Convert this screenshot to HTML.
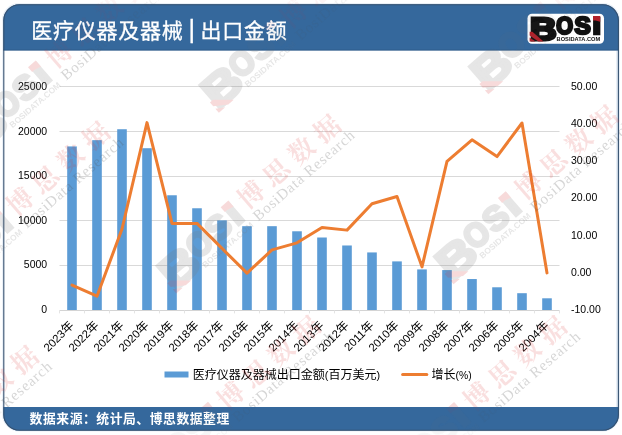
<!DOCTYPE html>
<html lang="zh"><head><meta charset="utf-8"><title>医疗仪器及器械 | 出口金额</title>
<style>
html,body{margin:0;padding:0;background:#fff;}
body{width:622px;height:435px;overflow:hidden;position:relative;font-family:"Liberation Sans", "Noto Sans CJK SC", sans-serif;}
svg{position:absolute;left:0;top:0;display:block}
text{font-family:"Liberation Sans", "Noto Sans CJK SC", sans-serif;}
.ax{font-size:10.5px;fill:#000}
.lg{font-size:12px;fill:#000}
</style></head><body>
<svg width="622" height="435" viewBox="0 0 622 435">
<defs>
<clipPath id="all"><rect x="0" y="0" width="622" height="435"/></clipPath>
<clipPath id="body"><rect x="0" y="50.1" width="622" height="356.9"/></clipPath>
<clipPath id="hf"><rect x="0" y="0" width="622" height="50.1"/><rect x="0" y="407" width="622" height="28"/></clipPath>
<clipPath id="fr"><rect x="3.3" y="4.3" width="615.6" height="426.3" rx="16" ry="16"/></clipPath>
</defs>
<rect x="0" y="0" width="622" height="435" fill="#fff"/>
<rect x="2" y="3" width="618" height="428.5" rx="17" ry="17" fill="#eaf0f7"/>
<g clip-path="url(#fr)">
<rect x="3" y="4" width="616" height="427" fill="#fff"/>
<rect x="3" y="4" width="616" height="46.1" fill="#35689c"/>
<rect x="3" y="407" width="616" height="24" fill="#35689c"/>
<rect x="616.2" y="50" width="1.8" height="357" fill="#e1eaf4"/>
<rect x="3" y="49.6" width="616" height="1" fill="#2d5a8a"/>
</g>
<rect x="3.8" y="4.8" width="614.6" height="425.4" rx="15.6" ry="15.6" fill="none" stroke="#34506f" stroke-width="1.1"/>

<line x1="59.5" x2="559.5" y1="265.50" y2="265.50" stroke="#d9d9d9" stroke-width="1"/>
<line x1="59.5" x2="559.5" y1="220.50" y2="220.50" stroke="#d9d9d9" stroke-width="1"/>
<line x1="59.5" x2="559.5" y1="176.50" y2="176.50" stroke="#d9d9d9" stroke-width="1"/>
<line x1="59.5" x2="559.5" y1="131.50" y2="131.50" stroke="#d9d9d9" stroke-width="1"/>
<line x1="59.5" x2="559.5" y1="86.50" y2="86.50" stroke="#d9d9d9" stroke-width="1"/>
<rect x="67.20" y="146.43" width="9.6" height="163.97" fill="#5b9bd5"/>
<rect x="92.20" y="140.16" width="9.6" height="170.24" fill="#5b9bd5"/>
<rect x="117.20" y="129.23" width="9.6" height="181.17" fill="#5b9bd5"/>
<rect x="142.20" y="148.22" width="9.6" height="162.18" fill="#5b9bd5"/>
<rect x="167.20" y="195.26" width="9.6" height="115.14" fill="#5b9bd5"/>
<rect x="192.20" y="208.26" width="9.6" height="102.14" fill="#5b9bd5"/>
<rect x="217.20" y="220.35" width="9.6" height="90.05" fill="#5b9bd5"/>
<rect x="242.20" y="226.18" width="9.6" height="84.22" fill="#5b9bd5"/>
<rect x="267.20" y="226.18" width="9.6" height="84.22" fill="#5b9bd5"/>
<rect x="292.20" y="231.28" width="9.6" height="79.12" fill="#5b9bd5"/>
<rect x="317.20" y="237.50" width="9.6" height="72.90" fill="#5b9bd5"/>
<rect x="342.20" y="245.48" width="9.6" height="64.92" fill="#5b9bd5"/>
<rect x="367.20" y="252.43" width="9.6" height="57.97" fill="#5b9bd5"/>
<rect x="392.20" y="261.39" width="9.6" height="49.01" fill="#5b9bd5"/>
<rect x="417.20" y="269.41" width="9.6" height="40.99" fill="#5b9bd5"/>
<rect x="442.20" y="270.08" width="9.6" height="40.32" fill="#5b9bd5"/>
<rect x="467.20" y="279.04" width="9.6" height="31.36" fill="#5b9bd5"/>
<rect x="492.20" y="287.28" width="9.6" height="23.12" fill="#5b9bd5"/>
<rect x="517.20" y="293.20" width="9.6" height="17.20" fill="#5b9bd5"/>
<rect x="542.20" y="298.30" width="9.6" height="12.10" fill="#5b9bd5"/>
<line x1="59.5" x2="559.5" y1="310.5" y2="310.5" stroke="#d4d4d4" stroke-width="1"/>
<line x1="59.50" x2="59.50" y1="310.4" y2="313.4" stroke="#e4e4e4" stroke-width="1"/>
<line x1="84.50" x2="84.50" y1="310.4" y2="313.4" stroke="#e4e4e4" stroke-width="1"/>
<line x1="109.50" x2="109.50" y1="310.4" y2="313.4" stroke="#e4e4e4" stroke-width="1"/>
<line x1="134.50" x2="134.50" y1="310.4" y2="313.4" stroke="#e4e4e4" stroke-width="1"/>
<line x1="159.50" x2="159.50" y1="310.4" y2="313.4" stroke="#e4e4e4" stroke-width="1"/>
<line x1="184.50" x2="184.50" y1="310.4" y2="313.4" stroke="#e4e4e4" stroke-width="1"/>
<line x1="209.50" x2="209.50" y1="310.4" y2="313.4" stroke="#e4e4e4" stroke-width="1"/>
<line x1="234.50" x2="234.50" y1="310.4" y2="313.4" stroke="#e4e4e4" stroke-width="1"/>
<line x1="259.50" x2="259.50" y1="310.4" y2="313.4" stroke="#e4e4e4" stroke-width="1"/>
<line x1="284.50" x2="284.50" y1="310.4" y2="313.4" stroke="#e4e4e4" stroke-width="1"/>
<line x1="309.50" x2="309.50" y1="310.4" y2="313.4" stroke="#e4e4e4" stroke-width="1"/>
<line x1="334.50" x2="334.50" y1="310.4" y2="313.4" stroke="#e4e4e4" stroke-width="1"/>
<line x1="359.50" x2="359.50" y1="310.4" y2="313.4" stroke="#e4e4e4" stroke-width="1"/>
<line x1="384.50" x2="384.50" y1="310.4" y2="313.4" stroke="#e4e4e4" stroke-width="1"/>
<line x1="409.50" x2="409.50" y1="310.4" y2="313.4" stroke="#e4e4e4" stroke-width="1"/>
<line x1="434.50" x2="434.50" y1="310.4" y2="313.4" stroke="#e4e4e4" stroke-width="1"/>
<line x1="459.50" x2="459.50" y1="310.4" y2="313.4" stroke="#e4e4e4" stroke-width="1"/>
<line x1="484.50" x2="484.50" y1="310.4" y2="313.4" stroke="#e4e4e4" stroke-width="1"/>
<line x1="509.50" x2="509.50" y1="310.4" y2="313.4" stroke="#e4e4e4" stroke-width="1"/>
<line x1="534.50" x2="534.50" y1="310.4" y2="313.4" stroke="#e4e4e4" stroke-width="1"/>
<line x1="559.50" x2="559.50" y1="310.4" y2="313.4" stroke="#e4e4e4" stroke-width="1"/>
<polyline points="72.00,285.01 97.00,296.21 122.00,229.01 147.00,122.61 172.00,223.41 197.00,223.41 222.00,248.43 247.00,273.07 272.00,249.92 297.00,242.83 322.00,227.52 347.00,230.13 372.00,203.81 397.00,196.53 422.00,266.83 447.00,161.44 472.00,139.79 497.00,156.59 522.00,122.99 547.00,272.88" fill="none" stroke="#ed7d31" stroke-width="3" stroke-linejoin="round" stroke-linecap="round"/>
<text class="ax" x="47.2" y="312.80" text-anchor="end">0</text>
<text class="ax" x="47.2" y="268.26" text-anchor="end">5000</text>
<text class="ax" x="47.2" y="223.72" text-anchor="end">10000</text>
<text class="ax" x="47.2" y="179.18" text-anchor="end">15000</text>
<text class="ax" x="47.2" y="134.64" text-anchor="end">20000</text>
<text class="ax" x="47.2" y="90.10" text-anchor="end">25000</text>
<text class="ax" x="571" y="312.80">-10.00</text>
<text class="ax" x="571" y="275.68">0.00</text>
<text class="ax" x="571" y="238.56">10.00</text>
<text class="ax" x="571" y="201.44">20.00</text>
<text class="ax" x="571" y="164.32">30.00</text>
<text class="ax" x="571" y="127.20">40.00</text>
<text class="ax" x="571" y="90.08">50.00</text>
<text class="ax" style="font-size:11.3px" transform="translate(71.70,323.30) rotate(-45)" text-anchor="end" y="3.9">2023<tspan style="font-size:12px">年</tspan></text>
<text class="ax" style="font-size:11.3px" transform="translate(96.70,323.30) rotate(-45)" text-anchor="end" y="3.9">2022<tspan style="font-size:12px">年</tspan></text>
<text class="ax" style="font-size:11.3px" transform="translate(121.70,323.30) rotate(-45)" text-anchor="end" y="3.9">2021<tspan style="font-size:12px">年</tspan></text>
<text class="ax" style="font-size:11.3px" transform="translate(146.70,323.30) rotate(-45)" text-anchor="end" y="3.9">2020<tspan style="font-size:12px">年</tspan></text>
<text class="ax" style="font-size:11.3px" transform="translate(171.70,323.30) rotate(-45)" text-anchor="end" y="3.9">2019<tspan style="font-size:12px">年</tspan></text>
<text class="ax" style="font-size:11.3px" transform="translate(196.70,323.30) rotate(-45)" text-anchor="end" y="3.9">2018<tspan style="font-size:12px">年</tspan></text>
<text class="ax" style="font-size:11.3px" transform="translate(221.70,323.30) rotate(-45)" text-anchor="end" y="3.9">2017<tspan style="font-size:12px">年</tspan></text>
<text class="ax" style="font-size:11.3px" transform="translate(246.70,323.30) rotate(-45)" text-anchor="end" y="3.9">2016<tspan style="font-size:12px">年</tspan></text>
<text class="ax" style="font-size:11.3px" transform="translate(271.70,323.30) rotate(-45)" text-anchor="end" y="3.9">2015<tspan style="font-size:12px">年</tspan></text>
<text class="ax" style="font-size:11.3px" transform="translate(296.70,323.30) rotate(-45)" text-anchor="end" y="3.9">2014<tspan style="font-size:12px">年</tspan></text>
<text class="ax" style="font-size:11.3px" transform="translate(321.70,323.30) rotate(-45)" text-anchor="end" y="3.9">2013<tspan style="font-size:12px">年</tspan></text>
<text class="ax" style="font-size:11.3px" transform="translate(346.70,323.30) rotate(-45)" text-anchor="end" y="3.9">2012<tspan style="font-size:12px">年</tspan></text>
<text class="ax" style="font-size:11.3px" transform="translate(371.70,323.30) rotate(-45)" text-anchor="end" y="3.9">2011<tspan style="font-size:12px">年</tspan></text>
<text class="ax" style="font-size:11.3px" transform="translate(396.70,323.30) rotate(-45)" text-anchor="end" y="3.9">2010<tspan style="font-size:12px">年</tspan></text>
<text class="ax" style="font-size:11.3px" transform="translate(421.70,323.30) rotate(-45)" text-anchor="end" y="3.9">2009<tspan style="font-size:12px">年</tspan></text>
<text class="ax" style="font-size:11.3px" transform="translate(446.70,323.30) rotate(-45)" text-anchor="end" y="3.9">2008<tspan style="font-size:12px">年</tspan></text>
<text class="ax" style="font-size:11.3px" transform="translate(471.70,323.30) rotate(-45)" text-anchor="end" y="3.9">2007<tspan style="font-size:12px">年</tspan></text>
<text class="ax" style="font-size:11.3px" transform="translate(496.70,323.30) rotate(-45)" text-anchor="end" y="3.9">2006<tspan style="font-size:12px">年</tspan></text>
<text class="ax" style="font-size:11.3px" transform="translate(521.70,323.30) rotate(-45)" text-anchor="end" y="3.9">2005<tspan style="font-size:12px">年</tspan></text>
<text class="ax" style="font-size:11.3px" transform="translate(546.70,323.30) rotate(-45)" text-anchor="end" y="3.9">2004<tspan style="font-size:12px">年</tspan></text>
<rect x="164.5" y="371.5" width="24" height="6" fill="#5b9bd5"/>
<text class="lg" x="192.8" y="378.8">医疗仪器及器械出口金额<tspan font-size="10.8">(</tspan>百万美元<tspan font-size="10.8">)</tspan></text>
<line x1="402.6" x2="426.8" y1="374.5" y2="374.5" stroke="#ed7d31" stroke-width="3" stroke-linecap="round"/>
<text class="lg" x="431.5" y="378.8">增长<tspan font-size="10.4">(%)</tspan></text>
<text y="37.6" font-size="21" fill="#fff" font-weight="400" stroke="#fff" stroke-width="0.3"><tspan x="31.2" style="letter-spacing:0.75px">医疗仪器及器械</tspan><tspan x="188.5" y="38.2" font-size="25" font-weight="400">|</tspan><tspan x="200.4" y="37.6" style="letter-spacing:0.8px">出口金额</tspan></text>
<text x="29.6" y="423.4" font-size="12.8" fill="#fff" font-weight="700" style="letter-spacing:0.55px">数据来源：统计局、博思数据整理</text>
<g>
<rect x="527.5" y="13.8" width="76.5" height="30" rx="4.5" fill="#fff"/>
<g transform="translate(531,41)"><text x="-0.9" y="-1.5" font-size="31.3" fill="#111" stroke="#111" stroke-linejoin="miter" font-weight="700" stroke-width="3.0" textLength="26.6" lengthAdjust="spacingAndGlyphs">B</text>
<text x="25.3" y="-7.2" font-size="23.7" fill="#111" stroke="#111" stroke-linejoin="miter" font-weight="700" stroke-width="2.6" textLength="16.8" lengthAdjust="spacingAndGlyphs">O</text>
<text x="43.4" y="-7.2" font-size="23.7" fill="#111" stroke="#111" stroke-linejoin="miter" font-weight="700" stroke-width="2.6" textLength="16.2" lengthAdjust="spacingAndGlyphs">S</text>
<text x="61.85" y="-7.2" font-size="22.2" fill="#111" stroke="#111" stroke-linejoin="miter" font-weight="700" stroke-width="2.6" textLength="8" lengthAdjust="spacingAndGlyphs">i</text>
<text x="25.6" y="0.4" font-size="5.9" font-weight="700" fill="#111" textLength="43.6" lengthAdjust="spacingAndGlyphs">BOSIDATA.COM</text>
<polygon points="62,-24.9 69.2,-24.9 69.2,-19.2 64.5,-20.4 62,-20.4" fill="#b0202a"/>
<polygon points="-1.4,-9.2 1.4,-9.2 12.5,0.4 7.4,0.4 -1.4,-5.6" fill="#b0202a"/>
<polygon points="-1.4,-3.4 4.6,0.4 -1.4,0.4" fill="#b0202a"/></g>
</g>
<g clip-path="url(#body)">
<g transform="translate(454.7,282.5) rotate(-41)">
<g transform="translate(0,0) scale(1.42)" opacity="0.18"><text x="-0.9" y="-1.5" font-size="31.3" fill="#777" stroke="#777" stroke-linejoin="miter" font-weight="700" stroke-width="2.4000000000000004" textLength="26.6" lengthAdjust="spacingAndGlyphs">B</text>
<text x="25.3" y="-7.2" font-size="23.7" fill="#777" stroke="#777" stroke-linejoin="miter" font-weight="700" stroke-width="2.08" textLength="16.8" lengthAdjust="spacingAndGlyphs">O</text>
<text x="43.4" y="-7.2" font-size="23.7" fill="#777" stroke="#777" stroke-linejoin="miter" font-weight="700" stroke-width="2.08" textLength="16.2" lengthAdjust="spacingAndGlyphs">S</text>
<text x="61.85" y="-7.2" font-size="22.2" fill="#777" stroke="#777" stroke-linejoin="miter" font-weight="700" stroke-width="2.08" textLength="8" lengthAdjust="spacingAndGlyphs">i</text>
<text x="25.6" y="0.4" font-size="5.9" font-weight="700" fill="#777" textLength="45.6" lengthAdjust="spacingAndGlyphs">BOSIDATA.COM</text>
<polygon points="62,-24.9 69.2,-24.9 69.2,-19.2 64.5,-20.4 62,-20.4" fill="#d83a3a"/>
<polygon points="-1.4,-9.2 1.4,-9.2 12.5,0.4 7.4,0.4 -1.4,-5.6" fill="#d83a3a"/>
<polygon points="-1.4,-3.4 4.6,0.4 -1.4,0.4" fill="#d83a3a"/></g>
<text x="106.5" y="-15.5" font-size="26" font-weight="700" fill="#dd3333" opacity="0.15" style="font-family:'Noto Serif CJK SC',serif;letter-spacing:7.4px">博思数据</text>
<text x="107" y="0" font-size="15" fill="#555" opacity="0.24" style="font-family:'Liberation Serif',serif" textLength="129" lengthAdjust="spacing">BosiData Research</text>
</g>
<g transform="translate(177.4,291.7) rotate(-41)">
<g transform="translate(0,0) scale(1.42)" opacity="0.18"><text x="-0.9" y="-1.5" font-size="31.3" fill="#777" stroke="#777" stroke-linejoin="miter" font-weight="700" stroke-width="2.4000000000000004" textLength="26.6" lengthAdjust="spacingAndGlyphs">B</text>
<text x="25.3" y="-7.2" font-size="23.7" fill="#777" stroke="#777" stroke-linejoin="miter" font-weight="700" stroke-width="2.08" textLength="16.8" lengthAdjust="spacingAndGlyphs">O</text>
<text x="43.4" y="-7.2" font-size="23.7" fill="#777" stroke="#777" stroke-linejoin="miter" font-weight="700" stroke-width="2.08" textLength="16.2" lengthAdjust="spacingAndGlyphs">S</text>
<text x="61.85" y="-7.2" font-size="22.2" fill="#777" stroke="#777" stroke-linejoin="miter" font-weight="700" stroke-width="2.08" textLength="8" lengthAdjust="spacingAndGlyphs">i</text>
<text x="25.6" y="0.4" font-size="5.9" font-weight="700" fill="#777" textLength="45.6" lengthAdjust="spacingAndGlyphs">BOSIDATA.COM</text>
<polygon points="62,-24.9 69.2,-24.9 69.2,-19.2 64.5,-20.4 62,-20.4" fill="#d83a3a"/>
<polygon points="-1.4,-9.2 1.4,-9.2 12.5,0.4 7.4,0.4 -1.4,-5.6" fill="#d83a3a"/>
<polygon points="-1.4,-3.4 4.6,0.4 -1.4,0.4" fill="#d83a3a"/></g>
<text x="106.5" y="-15.5" font-size="26" font-weight="700" fill="#dd3333" opacity="0.15" style="font-family:'Noto Serif CJK SC',serif;letter-spacing:7.4px">博思数据</text>
<text x="107" y="0" font-size="15" fill="#555" opacity="0.24" style="font-family:'Liberation Serif',serif" textLength="129" lengthAdjust="spacing">BosiData Research</text>
</g>
<g transform="translate(-14.5,151) rotate(-41)">
<g transform="translate(-1,0) scale(1.42)" opacity="0.18"><text x="-0.9" y="-1.5" font-size="31.3" fill="#777" stroke="#777" stroke-linejoin="miter" font-weight="700" stroke-width="2.4000000000000004" textLength="26.6" lengthAdjust="spacingAndGlyphs">B</text>
<text x="25.3" y="-7.2" font-size="23.7" fill="#777" stroke="#777" stroke-linejoin="miter" font-weight="700" stroke-width="2.08" textLength="16.8" lengthAdjust="spacingAndGlyphs">O</text>
<text x="43.4" y="-7.2" font-size="23.7" fill="#777" stroke="#777" stroke-linejoin="miter" font-weight="700" stroke-width="2.08" textLength="16.2" lengthAdjust="spacingAndGlyphs">S</text>
<text x="61.85" y="-7.2" font-size="22.2" fill="#777" stroke="#777" stroke-linejoin="miter" font-weight="700" stroke-width="2.08" textLength="8" lengthAdjust="spacingAndGlyphs">i</text>
<text x="25.6" y="0.4" font-size="5.9" font-weight="700" fill="#777" textLength="45.6" lengthAdjust="spacingAndGlyphs">BOSIDATA.COM</text>
<polygon points="62,-24.9 69.2,-24.9 69.2,-19.2 64.5,-20.4 62,-20.4" fill="#d83a3a"/>
<polygon points="-1.4,-9.2 1.4,-9.2 12.5,0.4 7.4,0.4 -1.4,-5.6" fill="#d83a3a"/>
<polygon points="-1.4,-3.4 4.6,0.4 -1.4,0.4" fill="#d83a3a"/></g>
<text x="106.5" y="-15.5" font-size="26" font-weight="700" fill="#dd3333" opacity="0.15" style="font-family:'Noto Serif CJK SC',serif;letter-spacing:7.4px">博思数据</text>
<text x="107" y="0" font-size="15" fill="#555" opacity="0.24" style="font-family:'Liberation Serif',serif" textLength="129" lengthAdjust="spacing">BosiData Research</text>
</g>
<g transform="translate(220,111) rotate(-41)">
<g transform="translate(0,0) scale(1.42)" opacity="0.18"><text x="-0.9" y="-1.5" font-size="31.3" fill="#777" stroke="#777" stroke-linejoin="miter" font-weight="700" stroke-width="2.4000000000000004" textLength="26.6" lengthAdjust="spacingAndGlyphs">B</text>
<text x="25.3" y="-7.2" font-size="23.7" fill="#777" stroke="#777" stroke-linejoin="miter" font-weight="700" stroke-width="2.08" textLength="16.8" lengthAdjust="spacingAndGlyphs">O</text>
<text x="43.4" y="-7.2" font-size="23.7" fill="#777" stroke="#777" stroke-linejoin="miter" font-weight="700" stroke-width="2.08" textLength="16.2" lengthAdjust="spacingAndGlyphs">S</text>
<text x="61.85" y="-7.2" font-size="22.2" fill="#777" stroke="#777" stroke-linejoin="miter" font-weight="700" stroke-width="2.08" textLength="8" lengthAdjust="spacingAndGlyphs">i</text>
<text x="25.6" y="0.4" font-size="5.9" font-weight="700" fill="#777" textLength="45.6" lengthAdjust="spacingAndGlyphs">BOSIDATA.COM</text>
<polygon points="62,-24.9 69.2,-24.9 69.2,-19.2 64.5,-20.4 62,-20.4" fill="#d83a3a"/>
<polygon points="-1.4,-9.2 1.4,-9.2 12.5,0.4 7.4,0.4 -1.4,-5.6" fill="#d83a3a"/>
<polygon points="-1.4,-3.4 4.6,0.4 -1.4,0.4" fill="#d83a3a"/></g>
<text x="106.5" y="-15.5" font-size="26" font-weight="700" fill="#dd3333" opacity="0.15" style="font-family:'Noto Serif CJK SC',serif;letter-spacing:7.4px">博思数据</text>
<text x="107" y="0" font-size="15" fill="#555" opacity="0.24" style="font-family:'Liberation Serif',serif" textLength="129" lengthAdjust="spacing">BosiData Research</text>
</g>
<g transform="translate(489.5,92.5) rotate(-41)">
<g transform="translate(0,0) scale(1.42)" opacity="0.18"><text x="-0.9" y="-1.5" font-size="31.3" fill="#777" stroke="#777" stroke-linejoin="miter" font-weight="700" stroke-width="2.4000000000000004" textLength="26.6" lengthAdjust="spacingAndGlyphs">B</text>
<text x="25.3" y="-7.2" font-size="23.7" fill="#777" stroke="#777" stroke-linejoin="miter" font-weight="700" stroke-width="2.08" textLength="16.8" lengthAdjust="spacingAndGlyphs">O</text>
<text x="43.4" y="-7.2" font-size="23.7" fill="#777" stroke="#777" stroke-linejoin="miter" font-weight="700" stroke-width="2.08" textLength="16.2" lengthAdjust="spacingAndGlyphs">S</text>
<text x="61.85" y="-7.2" font-size="22.2" fill="#777" stroke="#777" stroke-linejoin="miter" font-weight="700" stroke-width="2.08" textLength="8" lengthAdjust="spacingAndGlyphs">i</text>
<text x="25.6" y="0.4" font-size="5.9" font-weight="700" fill="#777" textLength="45.6" lengthAdjust="spacingAndGlyphs">BOSIDATA.COM</text>
<polygon points="62,-24.9 69.2,-24.9 69.2,-19.2 64.5,-20.4 62,-20.4" fill="#d83a3a"/>
<polygon points="-1.4,-9.2 1.4,-9.2 12.5,0.4 7.4,0.4 -1.4,-5.6" fill="#d83a3a"/>
<polygon points="-1.4,-3.4 4.6,0.4 -1.4,0.4" fill="#d83a3a"/></g>
<text x="106.5" y="-15.5" font-size="26" font-weight="700" fill="#dd3333" opacity="0.15" style="font-family:'Noto Serif CJK SC',serif;letter-spacing:7.4px">博思数据</text>
<text x="107" y="0" font-size="15" fill="#555" opacity="0.24" style="font-family:'Liberation Serif',serif" textLength="129" lengthAdjust="spacing">BosiData Research</text>
</g>
<g transform="translate(-53.7,298.9) rotate(-41)">
<g transform="translate(0,0) scale(1.42)" opacity="0.18"><text x="-0.9" y="-1.5" font-size="31.3" fill="#777" stroke="#777" stroke-linejoin="miter" font-weight="700" stroke-width="2.4000000000000004" textLength="26.6" lengthAdjust="spacingAndGlyphs">B</text>
<text x="25.3" y="-7.2" font-size="23.7" fill="#777" stroke="#777" stroke-linejoin="miter" font-weight="700" stroke-width="2.08" textLength="16.8" lengthAdjust="spacingAndGlyphs">O</text>
<text x="43.4" y="-7.2" font-size="23.7" fill="#777" stroke="#777" stroke-linejoin="miter" font-weight="700" stroke-width="2.08" textLength="16.2" lengthAdjust="spacingAndGlyphs">S</text>
<text x="61.85" y="-7.2" font-size="22.2" fill="#777" stroke="#777" stroke-linejoin="miter" font-weight="700" stroke-width="2.08" textLength="8" lengthAdjust="spacingAndGlyphs">i</text>
<text x="25.6" y="0.4" font-size="5.9" font-weight="700" fill="#777" textLength="45.6" lengthAdjust="spacingAndGlyphs">BOSIDATA.COM</text>
<polygon points="62,-24.9 69.2,-24.9 69.2,-19.2 64.5,-20.4 62,-20.4" fill="#d83a3a"/>
<polygon points="-1.4,-9.2 1.4,-9.2 12.5,0.4 7.4,0.4 -1.4,-5.6" fill="#d83a3a"/>
<polygon points="-1.4,-3.4 4.6,0.4 -1.4,0.4" fill="#d83a3a"/></g>
<text x="106.5" y="-15.5" font-size="26" font-weight="700" fill="#dd3333" opacity="0.15" style="font-family:'Noto Serif CJK SC',serif;letter-spacing:7.4px">博思数据</text>
<text x="107" y="0" font-size="15" fill="#555" opacity="0.24" style="font-family:'Liberation Serif',serif" textLength="129" lengthAdjust="spacing">BosiData Research</text>
</g>
<g transform="translate(403.1,493.2) rotate(-41)">
<g transform="translate(0,0) scale(1.42)" opacity="0.18"><text x="-0.9" y="-1.5" font-size="31.3" fill="#777" stroke="#777" stroke-linejoin="miter" font-weight="700" stroke-width="2.4000000000000004" textLength="26.6" lengthAdjust="spacingAndGlyphs">B</text>
<text x="25.3" y="-7.2" font-size="23.7" fill="#777" stroke="#777" stroke-linejoin="miter" font-weight="700" stroke-width="2.08" textLength="16.8" lengthAdjust="spacingAndGlyphs">O</text>
<text x="43.4" y="-7.2" font-size="23.7" fill="#777" stroke="#777" stroke-linejoin="miter" font-weight="700" stroke-width="2.08" textLength="16.2" lengthAdjust="spacingAndGlyphs">S</text>
<text x="61.85" y="-7.2" font-size="22.2" fill="#777" stroke="#777" stroke-linejoin="miter" font-weight="700" stroke-width="2.08" textLength="8" lengthAdjust="spacingAndGlyphs">i</text>
<text x="25.6" y="0.4" font-size="5.9" font-weight="700" fill="#777" textLength="45.6" lengthAdjust="spacingAndGlyphs">BOSIDATA.COM</text>
<polygon points="62,-24.9 69.2,-24.9 69.2,-19.2 64.5,-20.4 62,-20.4" fill="#d83a3a"/>
<polygon points="-1.4,-9.2 1.4,-9.2 12.5,0.4 7.4,0.4 -1.4,-5.6" fill="#d83a3a"/>
<polygon points="-1.4,-3.4 4.6,0.4 -1.4,0.4" fill="#d83a3a"/></g>
<text x="106.5" y="-15.5" font-size="26" font-weight="700" fill="#dd3333" opacity="0.15" style="font-family:'Noto Serif CJK SC',serif;letter-spacing:7.4px">博思数据</text>
<text x="107" y="0" font-size="15" fill="#555" opacity="0.24" style="font-family:'Liberation Serif',serif" textLength="129" lengthAdjust="spacing">BosiData Research</text>
</g>
<g transform="translate(157,493) rotate(-41)">
<g transform="translate(0,0) scale(1.42)" opacity="0.18"><text x="-0.9" y="-1.5" font-size="31.3" fill="#777" stroke="#777" stroke-linejoin="miter" font-weight="700" stroke-width="2.4000000000000004" textLength="26.6" lengthAdjust="spacingAndGlyphs">B</text>
<text x="25.3" y="-7.2" font-size="23.7" fill="#777" stroke="#777" stroke-linejoin="miter" font-weight="700" stroke-width="2.08" textLength="16.8" lengthAdjust="spacingAndGlyphs">O</text>
<text x="43.4" y="-7.2" font-size="23.7" fill="#777" stroke="#777" stroke-linejoin="miter" font-weight="700" stroke-width="2.08" textLength="16.2" lengthAdjust="spacingAndGlyphs">S</text>
<text x="61.85" y="-7.2" font-size="22.2" fill="#777" stroke="#777" stroke-linejoin="miter" font-weight="700" stroke-width="2.08" textLength="8" lengthAdjust="spacingAndGlyphs">i</text>
<text x="25.6" y="0.4" font-size="5.9" font-weight="700" fill="#777" textLength="45.6" lengthAdjust="spacingAndGlyphs">BOSIDATA.COM</text>
<polygon points="62,-24.9 69.2,-24.9 69.2,-19.2 64.5,-20.4 62,-20.4" fill="#d83a3a"/>
<polygon points="-1.4,-9.2 1.4,-9.2 12.5,0.4 7.4,0.4 -1.4,-5.6" fill="#d83a3a"/>
<polygon points="-1.4,-3.4 4.6,0.4 -1.4,0.4" fill="#d83a3a"/></g>
<text x="106.5" y="-15.5" font-size="26" font-weight="700" fill="#dd3333" opacity="0.15" style="font-family:'Noto Serif CJK SC',serif;letter-spacing:7.4px">博思数据</text>
<text x="107" y="0" font-size="15" fill="#555" opacity="0.24" style="font-family:'Liberation Serif',serif" textLength="129" lengthAdjust="spacing">BosiData Research</text>
</g>
<g transform="translate(-125.2,523) rotate(-41)">
<g transform="translate(0,0) scale(1.42)" opacity="0.18"><text x="-0.9" y="-1.5" font-size="31.3" fill="#777" stroke="#777" stroke-linejoin="miter" font-weight="700" stroke-width="2.4000000000000004" textLength="26.6" lengthAdjust="spacingAndGlyphs">B</text>
<text x="25.3" y="-7.2" font-size="23.7" fill="#777" stroke="#777" stroke-linejoin="miter" font-weight="700" stroke-width="2.08" textLength="16.8" lengthAdjust="spacingAndGlyphs">O</text>
<text x="43.4" y="-7.2" font-size="23.7" fill="#777" stroke="#777" stroke-linejoin="miter" font-weight="700" stroke-width="2.08" textLength="16.2" lengthAdjust="spacingAndGlyphs">S</text>
<text x="61.85" y="-7.2" font-size="22.2" fill="#777" stroke="#777" stroke-linejoin="miter" font-weight="700" stroke-width="2.08" textLength="8" lengthAdjust="spacingAndGlyphs">i</text>
<text x="25.6" y="0.4" font-size="5.9" font-weight="700" fill="#777" textLength="45.6" lengthAdjust="spacingAndGlyphs">BOSIDATA.COM</text>
<polygon points="62,-24.9 69.2,-24.9 69.2,-19.2 64.5,-20.4 62,-20.4" fill="#d83a3a"/>
<polygon points="-1.4,-9.2 1.4,-9.2 12.5,0.4 7.4,0.4 -1.4,-5.6" fill="#d83a3a"/>
<polygon points="-1.4,-3.4 4.6,0.4 -1.4,0.4" fill="#d83a3a"/></g>
<text x="106.5" y="-15.5" font-size="26" font-weight="700" fill="#dd3333" opacity="0.15" style="font-family:'Noto Serif CJK SC',serif;letter-spacing:7.4px">博思数据</text>
<text x="107" y="0" font-size="15" fill="#555" opacity="0.24" style="font-family:'Liberation Serif',serif" textLength="129" lengthAdjust="spacing">BosiData Research</text>
</g>
</g>
<g clip-path="url(#hf)" opacity="0.35">
<g transform="translate(454.7,282.5) rotate(-41)">
<g transform="translate(0,0) scale(1.42)" opacity="0.18"><text x="-0.9" y="-1.5" font-size="31.3" fill="#777" stroke="#777" stroke-linejoin="miter" font-weight="700" stroke-width="2.4000000000000004" textLength="26.6" lengthAdjust="spacingAndGlyphs">B</text>
<text x="25.3" y="-7.2" font-size="23.7" fill="#777" stroke="#777" stroke-linejoin="miter" font-weight="700" stroke-width="2.08" textLength="16.8" lengthAdjust="spacingAndGlyphs">O</text>
<text x="43.4" y="-7.2" font-size="23.7" fill="#777" stroke="#777" stroke-linejoin="miter" font-weight="700" stroke-width="2.08" textLength="16.2" lengthAdjust="spacingAndGlyphs">S</text>
<text x="61.85" y="-7.2" font-size="22.2" fill="#777" stroke="#777" stroke-linejoin="miter" font-weight="700" stroke-width="2.08" textLength="8" lengthAdjust="spacingAndGlyphs">i</text>
<text x="25.6" y="0.4" font-size="5.9" font-weight="700" fill="#777" textLength="45.6" lengthAdjust="spacingAndGlyphs">BOSIDATA.COM</text>
<polygon points="62,-24.9 69.2,-24.9 69.2,-19.2 64.5,-20.4 62,-20.4" fill="#d83a3a"/>
<polygon points="-1.4,-9.2 1.4,-9.2 12.5,0.4 7.4,0.4 -1.4,-5.6" fill="#d83a3a"/>
<polygon points="-1.4,-3.4 4.6,0.4 -1.4,0.4" fill="#d83a3a"/></g>
<text x="106.5" y="-15.5" font-size="26" font-weight="700" fill="#dd3333" opacity="0.15" style="font-family:'Noto Serif CJK SC',serif;letter-spacing:7.4px">博思数据</text>
<text x="107" y="0" font-size="15" fill="#555" opacity="0.24" style="font-family:'Liberation Serif',serif" textLength="129" lengthAdjust="spacing">BosiData Research</text>
</g>
<g transform="translate(177.4,291.7) rotate(-41)">
<g transform="translate(0,0) scale(1.42)" opacity="0.18"><text x="-0.9" y="-1.5" font-size="31.3" fill="#777" stroke="#777" stroke-linejoin="miter" font-weight="700" stroke-width="2.4000000000000004" textLength="26.6" lengthAdjust="spacingAndGlyphs">B</text>
<text x="25.3" y="-7.2" font-size="23.7" fill="#777" stroke="#777" stroke-linejoin="miter" font-weight="700" stroke-width="2.08" textLength="16.8" lengthAdjust="spacingAndGlyphs">O</text>
<text x="43.4" y="-7.2" font-size="23.7" fill="#777" stroke="#777" stroke-linejoin="miter" font-weight="700" stroke-width="2.08" textLength="16.2" lengthAdjust="spacingAndGlyphs">S</text>
<text x="61.85" y="-7.2" font-size="22.2" fill="#777" stroke="#777" stroke-linejoin="miter" font-weight="700" stroke-width="2.08" textLength="8" lengthAdjust="spacingAndGlyphs">i</text>
<text x="25.6" y="0.4" font-size="5.9" font-weight="700" fill="#777" textLength="45.6" lengthAdjust="spacingAndGlyphs">BOSIDATA.COM</text>
<polygon points="62,-24.9 69.2,-24.9 69.2,-19.2 64.5,-20.4 62,-20.4" fill="#d83a3a"/>
<polygon points="-1.4,-9.2 1.4,-9.2 12.5,0.4 7.4,0.4 -1.4,-5.6" fill="#d83a3a"/>
<polygon points="-1.4,-3.4 4.6,0.4 -1.4,0.4" fill="#d83a3a"/></g>
<text x="106.5" y="-15.5" font-size="26" font-weight="700" fill="#dd3333" opacity="0.15" style="font-family:'Noto Serif CJK SC',serif;letter-spacing:7.4px">博思数据</text>
<text x="107" y="0" font-size="15" fill="#555" opacity="0.24" style="font-family:'Liberation Serif',serif" textLength="129" lengthAdjust="spacing">BosiData Research</text>
</g>
<g transform="translate(-14.5,151) rotate(-41)">
<g transform="translate(-1,0) scale(1.42)" opacity="0.18"><text x="-0.9" y="-1.5" font-size="31.3" fill="#777" stroke="#777" stroke-linejoin="miter" font-weight="700" stroke-width="2.4000000000000004" textLength="26.6" lengthAdjust="spacingAndGlyphs">B</text>
<text x="25.3" y="-7.2" font-size="23.7" fill="#777" stroke="#777" stroke-linejoin="miter" font-weight="700" stroke-width="2.08" textLength="16.8" lengthAdjust="spacingAndGlyphs">O</text>
<text x="43.4" y="-7.2" font-size="23.7" fill="#777" stroke="#777" stroke-linejoin="miter" font-weight="700" stroke-width="2.08" textLength="16.2" lengthAdjust="spacingAndGlyphs">S</text>
<text x="61.85" y="-7.2" font-size="22.2" fill="#777" stroke="#777" stroke-linejoin="miter" font-weight="700" stroke-width="2.08" textLength="8" lengthAdjust="spacingAndGlyphs">i</text>
<text x="25.6" y="0.4" font-size="5.9" font-weight="700" fill="#777" textLength="45.6" lengthAdjust="spacingAndGlyphs">BOSIDATA.COM</text>
<polygon points="62,-24.9 69.2,-24.9 69.2,-19.2 64.5,-20.4 62,-20.4" fill="#d83a3a"/>
<polygon points="-1.4,-9.2 1.4,-9.2 12.5,0.4 7.4,0.4 -1.4,-5.6" fill="#d83a3a"/>
<polygon points="-1.4,-3.4 4.6,0.4 -1.4,0.4" fill="#d83a3a"/></g>
<text x="106.5" y="-15.5" font-size="26" font-weight="700" fill="#dd3333" opacity="0.15" style="font-family:'Noto Serif CJK SC',serif;letter-spacing:7.4px">博思数据</text>
<text x="107" y="0" font-size="15" fill="#555" opacity="0.24" style="font-family:'Liberation Serif',serif" textLength="129" lengthAdjust="spacing">BosiData Research</text>
</g>
<g transform="translate(220,111) rotate(-41)">
<g transform="translate(0,0) scale(1.42)" opacity="0.18"><text x="-0.9" y="-1.5" font-size="31.3" fill="#777" stroke="#777" stroke-linejoin="miter" font-weight="700" stroke-width="2.4000000000000004" textLength="26.6" lengthAdjust="spacingAndGlyphs">B</text>
<text x="25.3" y="-7.2" font-size="23.7" fill="#777" stroke="#777" stroke-linejoin="miter" font-weight="700" stroke-width="2.08" textLength="16.8" lengthAdjust="spacingAndGlyphs">O</text>
<text x="43.4" y="-7.2" font-size="23.7" fill="#777" stroke="#777" stroke-linejoin="miter" font-weight="700" stroke-width="2.08" textLength="16.2" lengthAdjust="spacingAndGlyphs">S</text>
<text x="61.85" y="-7.2" font-size="22.2" fill="#777" stroke="#777" stroke-linejoin="miter" font-weight="700" stroke-width="2.08" textLength="8" lengthAdjust="spacingAndGlyphs">i</text>
<text x="25.6" y="0.4" font-size="5.9" font-weight="700" fill="#777" textLength="45.6" lengthAdjust="spacingAndGlyphs">BOSIDATA.COM</text>
<polygon points="62,-24.9 69.2,-24.9 69.2,-19.2 64.5,-20.4 62,-20.4" fill="#d83a3a"/>
<polygon points="-1.4,-9.2 1.4,-9.2 12.5,0.4 7.4,0.4 -1.4,-5.6" fill="#d83a3a"/>
<polygon points="-1.4,-3.4 4.6,0.4 -1.4,0.4" fill="#d83a3a"/></g>
<text x="106.5" y="-15.5" font-size="26" font-weight="700" fill="#dd3333" opacity="0.15" style="font-family:'Noto Serif CJK SC',serif;letter-spacing:7.4px">博思数据</text>
<text x="107" y="0" font-size="15" fill="#555" opacity="0.24" style="font-family:'Liberation Serif',serif" textLength="129" lengthAdjust="spacing">BosiData Research</text>
</g>
<g transform="translate(489.5,92.5) rotate(-41)">
<g transform="translate(0,0) scale(1.42)" opacity="0.18"><text x="-0.9" y="-1.5" font-size="31.3" fill="#777" stroke="#777" stroke-linejoin="miter" font-weight="700" stroke-width="2.4000000000000004" textLength="26.6" lengthAdjust="spacingAndGlyphs">B</text>
<text x="25.3" y="-7.2" font-size="23.7" fill="#777" stroke="#777" stroke-linejoin="miter" font-weight="700" stroke-width="2.08" textLength="16.8" lengthAdjust="spacingAndGlyphs">O</text>
<text x="43.4" y="-7.2" font-size="23.7" fill="#777" stroke="#777" stroke-linejoin="miter" font-weight="700" stroke-width="2.08" textLength="16.2" lengthAdjust="spacingAndGlyphs">S</text>
<text x="61.85" y="-7.2" font-size="22.2" fill="#777" stroke="#777" stroke-linejoin="miter" font-weight="700" stroke-width="2.08" textLength="8" lengthAdjust="spacingAndGlyphs">i</text>
<text x="25.6" y="0.4" font-size="5.9" font-weight="700" fill="#777" textLength="45.6" lengthAdjust="spacingAndGlyphs">BOSIDATA.COM</text>
<polygon points="62,-24.9 69.2,-24.9 69.2,-19.2 64.5,-20.4 62,-20.4" fill="#d83a3a"/>
<polygon points="-1.4,-9.2 1.4,-9.2 12.5,0.4 7.4,0.4 -1.4,-5.6" fill="#d83a3a"/>
<polygon points="-1.4,-3.4 4.6,0.4 -1.4,0.4" fill="#d83a3a"/></g>
<text x="106.5" y="-15.5" font-size="26" font-weight="700" fill="#dd3333" opacity="0.15" style="font-family:'Noto Serif CJK SC',serif;letter-spacing:7.4px">博思数据</text>
<text x="107" y="0" font-size="15" fill="#555" opacity="0.24" style="font-family:'Liberation Serif',serif" textLength="129" lengthAdjust="spacing">BosiData Research</text>
</g>
<g transform="translate(-53.7,298.9) rotate(-41)">
<g transform="translate(0,0) scale(1.42)" opacity="0.18"><text x="-0.9" y="-1.5" font-size="31.3" fill="#777" stroke="#777" stroke-linejoin="miter" font-weight="700" stroke-width="2.4000000000000004" textLength="26.6" lengthAdjust="spacingAndGlyphs">B</text>
<text x="25.3" y="-7.2" font-size="23.7" fill="#777" stroke="#777" stroke-linejoin="miter" font-weight="700" stroke-width="2.08" textLength="16.8" lengthAdjust="spacingAndGlyphs">O</text>
<text x="43.4" y="-7.2" font-size="23.7" fill="#777" stroke="#777" stroke-linejoin="miter" font-weight="700" stroke-width="2.08" textLength="16.2" lengthAdjust="spacingAndGlyphs">S</text>
<text x="61.85" y="-7.2" font-size="22.2" fill="#777" stroke="#777" stroke-linejoin="miter" font-weight="700" stroke-width="2.08" textLength="8" lengthAdjust="spacingAndGlyphs">i</text>
<text x="25.6" y="0.4" font-size="5.9" font-weight="700" fill="#777" textLength="45.6" lengthAdjust="spacingAndGlyphs">BOSIDATA.COM</text>
<polygon points="62,-24.9 69.2,-24.9 69.2,-19.2 64.5,-20.4 62,-20.4" fill="#d83a3a"/>
<polygon points="-1.4,-9.2 1.4,-9.2 12.5,0.4 7.4,0.4 -1.4,-5.6" fill="#d83a3a"/>
<polygon points="-1.4,-3.4 4.6,0.4 -1.4,0.4" fill="#d83a3a"/></g>
<text x="106.5" y="-15.5" font-size="26" font-weight="700" fill="#dd3333" opacity="0.15" style="font-family:'Noto Serif CJK SC',serif;letter-spacing:7.4px">博思数据</text>
<text x="107" y="0" font-size="15" fill="#555" opacity="0.24" style="font-family:'Liberation Serif',serif" textLength="129" lengthAdjust="spacing">BosiData Research</text>
</g>
<g transform="translate(403.1,493.2) rotate(-41)">
<g transform="translate(0,0) scale(1.42)" opacity="0.18"><text x="-0.9" y="-1.5" font-size="31.3" fill="#777" stroke="#777" stroke-linejoin="miter" font-weight="700" stroke-width="2.4000000000000004" textLength="26.6" lengthAdjust="spacingAndGlyphs">B</text>
<text x="25.3" y="-7.2" font-size="23.7" fill="#777" stroke="#777" stroke-linejoin="miter" font-weight="700" stroke-width="2.08" textLength="16.8" lengthAdjust="spacingAndGlyphs">O</text>
<text x="43.4" y="-7.2" font-size="23.7" fill="#777" stroke="#777" stroke-linejoin="miter" font-weight="700" stroke-width="2.08" textLength="16.2" lengthAdjust="spacingAndGlyphs">S</text>
<text x="61.85" y="-7.2" font-size="22.2" fill="#777" stroke="#777" stroke-linejoin="miter" font-weight="700" stroke-width="2.08" textLength="8" lengthAdjust="spacingAndGlyphs">i</text>
<text x="25.6" y="0.4" font-size="5.9" font-weight="700" fill="#777" textLength="45.6" lengthAdjust="spacingAndGlyphs">BOSIDATA.COM</text>
<polygon points="62,-24.9 69.2,-24.9 69.2,-19.2 64.5,-20.4 62,-20.4" fill="#d83a3a"/>
<polygon points="-1.4,-9.2 1.4,-9.2 12.5,0.4 7.4,0.4 -1.4,-5.6" fill="#d83a3a"/>
<polygon points="-1.4,-3.4 4.6,0.4 -1.4,0.4" fill="#d83a3a"/></g>
<text x="106.5" y="-15.5" font-size="26" font-weight="700" fill="#dd3333" opacity="0.15" style="font-family:'Noto Serif CJK SC',serif;letter-spacing:7.4px">博思数据</text>
<text x="107" y="0" font-size="15" fill="#555" opacity="0.24" style="font-family:'Liberation Serif',serif" textLength="129" lengthAdjust="spacing">BosiData Research</text>
</g>
<g transform="translate(157,493) rotate(-41)">
<g transform="translate(0,0) scale(1.42)" opacity="0.18"><text x="-0.9" y="-1.5" font-size="31.3" fill="#777" stroke="#777" stroke-linejoin="miter" font-weight="700" stroke-width="2.4000000000000004" textLength="26.6" lengthAdjust="spacingAndGlyphs">B</text>
<text x="25.3" y="-7.2" font-size="23.7" fill="#777" stroke="#777" stroke-linejoin="miter" font-weight="700" stroke-width="2.08" textLength="16.8" lengthAdjust="spacingAndGlyphs">O</text>
<text x="43.4" y="-7.2" font-size="23.7" fill="#777" stroke="#777" stroke-linejoin="miter" font-weight="700" stroke-width="2.08" textLength="16.2" lengthAdjust="spacingAndGlyphs">S</text>
<text x="61.85" y="-7.2" font-size="22.2" fill="#777" stroke="#777" stroke-linejoin="miter" font-weight="700" stroke-width="2.08" textLength="8" lengthAdjust="spacingAndGlyphs">i</text>
<text x="25.6" y="0.4" font-size="5.9" font-weight="700" fill="#777" textLength="45.6" lengthAdjust="spacingAndGlyphs">BOSIDATA.COM</text>
<polygon points="62,-24.9 69.2,-24.9 69.2,-19.2 64.5,-20.4 62,-20.4" fill="#d83a3a"/>
<polygon points="-1.4,-9.2 1.4,-9.2 12.5,0.4 7.4,0.4 -1.4,-5.6" fill="#d83a3a"/>
<polygon points="-1.4,-3.4 4.6,0.4 -1.4,0.4" fill="#d83a3a"/></g>
<text x="106.5" y="-15.5" font-size="26" font-weight="700" fill="#dd3333" opacity="0.15" style="font-family:'Noto Serif CJK SC',serif;letter-spacing:7.4px">博思数据</text>
<text x="107" y="0" font-size="15" fill="#555" opacity="0.24" style="font-family:'Liberation Serif',serif" textLength="129" lengthAdjust="spacing">BosiData Research</text>
</g>
<g transform="translate(-125.2,523) rotate(-41)">
<g transform="translate(0,0) scale(1.42)" opacity="0.18"><text x="-0.9" y="-1.5" font-size="31.3" fill="#777" stroke="#777" stroke-linejoin="miter" font-weight="700" stroke-width="2.4000000000000004" textLength="26.6" lengthAdjust="spacingAndGlyphs">B</text>
<text x="25.3" y="-7.2" font-size="23.7" fill="#777" stroke="#777" stroke-linejoin="miter" font-weight="700" stroke-width="2.08" textLength="16.8" lengthAdjust="spacingAndGlyphs">O</text>
<text x="43.4" y="-7.2" font-size="23.7" fill="#777" stroke="#777" stroke-linejoin="miter" font-weight="700" stroke-width="2.08" textLength="16.2" lengthAdjust="spacingAndGlyphs">S</text>
<text x="61.85" y="-7.2" font-size="22.2" fill="#777" stroke="#777" stroke-linejoin="miter" font-weight="700" stroke-width="2.08" textLength="8" lengthAdjust="spacingAndGlyphs">i</text>
<text x="25.6" y="0.4" font-size="5.9" font-weight="700" fill="#777" textLength="45.6" lengthAdjust="spacingAndGlyphs">BOSIDATA.COM</text>
<polygon points="62,-24.9 69.2,-24.9 69.2,-19.2 64.5,-20.4 62,-20.4" fill="#d83a3a"/>
<polygon points="-1.4,-9.2 1.4,-9.2 12.5,0.4 7.4,0.4 -1.4,-5.6" fill="#d83a3a"/>
<polygon points="-1.4,-3.4 4.6,0.4 -1.4,0.4" fill="#d83a3a"/></g>
<text x="106.5" y="-15.5" font-size="26" font-weight="700" fill="#dd3333" opacity="0.15" style="font-family:'Noto Serif CJK SC',serif;letter-spacing:7.4px">博思数据</text>
<text x="107" y="0" font-size="15" fill="#555" opacity="0.24" style="font-family:'Liberation Serif',serif" textLength="129" lengthAdjust="spacing">BosiData Research</text>
</g>
</g>
</svg></body></html>
